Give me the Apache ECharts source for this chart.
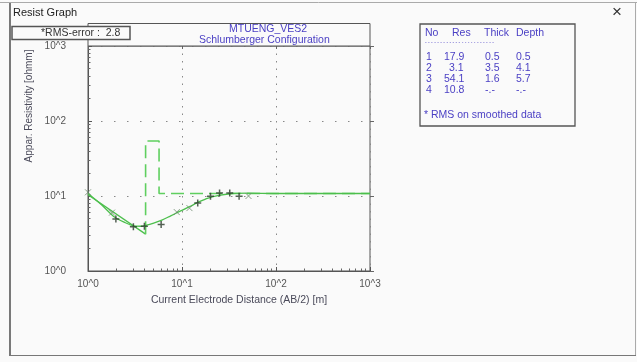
<!DOCTYPE html>
<html>
<head>
<meta charset="utf-8">
<script src="https://cdn.jsdelivr.net/npm/echarts@6/dist/echarts.min.js"></script>
<style>
    html, body { margin: 0; padding: 0; background: #fafafa; }
    #chart { width: 637px; height: 362px; }
</style>
</head>
<body>
<div id="chart"></div>
<script>
    // 拟合曲线 (calculated curve)
    const fitX = [1, 1.4, 1.93, 2.5, 3.04, 3.6, 4.2, 5, 6.1, 7.5, 9.2, 12, 15.1, 19, 24.7, 34.3, 50, 100, 1000];
    const fitRho = [10.8, 7.6, 5.2, 4.4, 4.0, 3.95, 4.08, 4.35, 4.76, 5.4, 6.13, 7.2, 8.33, 9.4, 10.2, 10.8, 10.9, 10.8, 10.8];
    // 层状模型 (model steps)
    const modelX = [1, 4.1, 4.1, 5.7, 5.7, 1000];
    const modelRho = [10.4, 3.1, 54.1, 54.1, 10.8, 10.8];
    // 实测数据
    const plusX = [1.98, 3.04, 3.98, 6.0, 14.7, 20.1, 25.1, 32.2, 40.5];
    const plusRho = [4.95, 3.88, 3.96, 4.17, 8.07, 9.9, 11.0, 11.0, 9.9];
    const crossX = [1.0, 1.8, 8.8, 12.0, 51];
    const crossRho = [11.2, 6.0, 6.1, 6.9, 10.0];
    // 坐标轴刻度文字
    const xTickLabels = ['10^0', '10^1', '10^2', '10^3'];
    const yTickLabels = ['10^0', '10^1', '10^2', '10^3'];
    // 右侧图层表
    const layerNo = ['1', '2', '3', '4'];
    const layerRes = ['17.9', '3.1', '54.1', '10.8'];
    const layerThick = ['0.5', '3.5', '1.6', '-.-'];
    const layerDepth = ['0.5', '4.1', '5.7', '-.-'];

    const pair = (xs, ys) => xs.map((x, i) => [x, ys[i]]);
    const expLabel = (labels) => (v) => labels[Math.round(Math.log10(v))] || '';
    const minors = [];
    [1, 10, 100].forEach(d => { for (let k = 2; k < 10; k++) minors.push(k * d); });

    const green = '#4cbf4c';
    const ink = '#4a3fc4';
    const font = 'Liberation Sans, Arial, sans-serif';

    var myChart = echarts.init(document.getElementById('chart'));

    const plusSym = 'path://M0,-5L0,5M-5,0L5,0';
    const crossSym = 'path://M-4,-4L4,4M-4,4L4,-4';

    // 表格文字
    const tableTexts = [];
    const colX = [426, 444, 485, 516];
    const header = ['No', 'Res', 'Thick', 'Depth'];
    const headerX = [425, 452, 484, 516];
    header.forEach((h, i) => tableTexts.push({
        type: 'text', left: headerX[i], top: 28,
        style: { text: h, fill: ink, font: '10.5px ' + font }
    }));
    tableTexts.push({
        type: 'text', left: 425, top: 40,
        style: { text: '- - - - - - - - - - - - - - - - - - - - - - -', fill: ink, font: '5px ' + font }
    });
    layerNo.forEach((n, r) => {
        [n, layerRes[r], layerThick[r], layerDepth[r]].forEach((t, c) => {
            tableTexts.push({
                type: 'text', left: colX[c] + (c === 1 && t.length < 4 ? 5 : 0), top: 52 + r * 11,
                style: { text: t, fill: ink, font: '10.5px ' + font }
            });
        });
    });
    tableTexts.push({
        type: 'text', left: 424, top: 110,
        style: { text: '* RMS on smoothed data', fill: ink, font: '10.5px ' + font }
    });

    const option = {
        backgroundColor: '#fafafa',
        animation: false,
        grid: {
            left: 88, right: 267, top: 46, bottom: 91,
            show: true, borderColor: '#555', borderWidth: 1
        },
        xAxis: [{
            type: 'log', logBase: 10, min: 1, max: 1000,
            name: 'Current Electrode Distance (AB/2) [m]',
            nameLocation: 'middle', nameGap: 24,
            nameTextStyle: { color: '#4a4a5a', fontSize: 10.5, fontFamily: font, padding: [0, 0, 0, 20] },
            axisLine: { lineStyle: { color: '#555' } },
            axisTick: { inside: true, length: 4, lineStyle: { color: '#555' } },
            axisLabel: { color: '#555', fontSize: 10, fontFamily: font, margin: 8, formatter: expLabel(xTickLabels) },
            splitLine: { show: true, lineStyle: { color: '#888', type: [1.5, 6] } }
        }, {
            type: 'log', logBase: 10, min: 1, max: 1000, position: 'bottom',
            axisLine: { show: false }, axisLabel: { show: false }, splitLine: { show: false },
            axisTick: { inside: true, length: 2.5, customValues: minors, lineStyle: { color: '#666' } }
        }, {
            type: 'log', logBase: 10, min: 1, max: 1000, position: 'top',
            axisLine: { show: false }, axisLabel: { show: false }, splitLine: { show: false },
            axisTick: { inside: true, length: 3, lineStyle: { color: '#666' } }
        }],
        yAxis: [{
            type: 'log', logBase: 10, min: 1, max: 1000,
            axisLine: { show: true, lineStyle: { color: '#555' } },
            axisTick: { show: true, inside: true, length: 4, lineStyle: { color: '#555' } },
            axisLabel: { color: '#555', fontSize: 10, fontFamily: font, margin: 22, formatter: expLabel(yTickLabels) },
            splitLine: { show: true, lineStyle: { color: '#888', type: [1.5, 11.5] } }
        }, {
            type: 'log', logBase: 10, min: 1, max: 1000, position: 'left',
            axisLine: { show: false }, axisLabel: { show: false }, splitLine: { show: false },
            axisTick: { show: true, inside: true, length: 2.5, customValues: minors, lineStyle: { color: '#666' } }
        }, {
            type: 'log', logBase: 10, min: 1, max: 1000, position: 'right',
            axisLine: { show: false }, axisLabel: { show: false }, splitLine: { show: false },
            axisTick: { show: true, inside: false, length: 4, lineStyle: { color: '#666' } }
        }],
        series: [{
            type: 'line', data: pair(modelX, modelRho).slice(0, 2),
            symbol: 'none', lineStyle: { color: green, width: 1.3 }, z: 2
        }, {
            type: 'line', data: pair(modelX, modelRho).slice(1),
            symbol: 'none', lineStyle: { color: '#5fcf5f', width: 1.6, type: [13, 6] }, z: 2
        }, {
            type: 'line', data: pair(fitX, fitRho), smooth: 0.3,
            symbol: 'none', lineStyle: { color: green, width: 1.3 }, z: 3
        }, {
            type: 'scatter', data: pair(crossX, crossRho),
            symbol: crossSym, symbolSize: 6,
            itemStyle: { color: 'none', borderColor: '#6d8a6d', borderWidth: 1 }, z: 4
        }, {
            type: 'scatter', data: pair(plusX, plusRho),
            symbol: plusSym, symbolSize: 7,
            itemStyle: { color: 'none', borderColor: '#2a3a2a', borderWidth: 1.5 }, z: 5
        }],
        graphic: [
            // 窗口边框
            { type: 'line', shape: { x1: 0, y1: 2.5, x2: 637, y2: 2.5 }, style: { stroke: '#aaa', lineWidth: 1 } },
            { type: 'line', shape: { x1: 635.5, y1: 2, x2: 635.5, y2: 355 }, style: { stroke: '#aaa', lineWidth: 1 } },
            { type: 'line', shape: { x1: 10, y1: 3, x2: 10, y2: 356 }, style: { stroke: '#222', lineWidth: 1.2 } },
            { type: 'line', shape: { x1: 10, y1: 355.5, x2: 636, y2: 355.5 }, style: { stroke: '#777', lineWidth: 1 } },
            { type: 'text', left: 13, top: 7, style: { text: 'Resist Graph', fill: '#222', font: '11px ' + font } },
            { type: 'text', left: 612, top: 4, style: { text: '×', fill: '#333', font: '17px ' + font } },
            // 标题框
            { type: 'rect', shape: { x: 88, y: 23.5, width: 282, height: 22.5 }, style: { fill: '#fafafa', stroke: '#555', lineWidth: 1 }, z: 10 },
            { type: 'text', left: 229, top: 24, style: { text: 'MTUENG_VES2', fill: ink, font: '10.5px ' + font }, z: 11 },
            { type: 'text', left: 199, top: 35, style: { text: 'Schlumberger Configuration', fill: ink, font: '10.5px ' + font }, z: 11 },
            // RMS 框
            { type: 'rect', shape: { x: 12, y: 26.5, width: 118, height: 13 }, style: { fill: '#fafafa', stroke: '#555', lineWidth: 1.5 }, z: 12 },
            { type: 'text', left: 41, top: 27.5, style: { text: '*RMS-error :  2.8', fill: '#333', font: '10.5px ' + font }, z: 13 },
            // 纵轴名称
            {
                type: 'text', x: 29, y: 106, rotation: Math.PI / 2,
                style: { text: 'Appar. Resistivity [ohmm]', fill: '#4a4a5a', font: '10px ' + font, align: 'center', verticalAlign: 'middle' }
            },
            // 图层表
            { type: 'rect', shape: { x: 420, y: 24, width: 155, height: 102 }, style: { fill: '#fafafa', stroke: '#555', lineWidth: 1.3 }, z: 10 },
            { type: 'group', z: 11, children: tableTexts.map(t => Object.assign(t, { z: 11 })) }
        ]
    };
    myChart.setOption(option);
</script>
</body>
</html>
